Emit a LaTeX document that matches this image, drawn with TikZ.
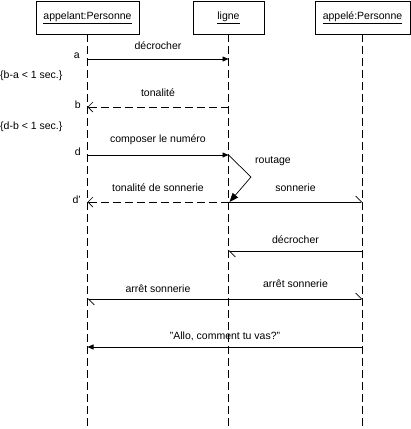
\documentclass[tikz,border=0pt]{standalone}
\usepackage{fontspec}
\setmainfont{Liberation Sans}
\usetikzlibrary{arrows.meta}

\tikzset{
  obj/.style={draw, line width=0.8pt, inner sep=0pt, minimum height=33pt, font=\fontsize{10.5}{12}\selectfont},
  life/.style={line width=0.7pt, dash pattern=on 8pt off 4pt},
  lbl/.style={inner sep=0pt, font=\fontsize{10.5}{12}\selectfont},
  sync/.style={line width=0.7pt, -{Triangle[length=6pt,width=5pt]}},
  bigsync/.style={line width=0.7pt, -{Triangle[length=9pt,width=7pt]}},
  async/.style={line width=0.7pt, -{Straight Barb[harpoon,length=6pt,width=12pt]}},
  reply/.style={line width=0.7pt, dash pattern=on 8pt off 4pt, -{Straight Barb[length=5pt,width=10pt]}}
}

\begin{document}
\begin{tikzpicture}[x=1pt,y=1pt]
\useasboundingbox (0,0) rectangle (411,-429);

\node[obj, minimum width=103pt] (appelant) at (87.5,-17.5) {\underline{appelant:Personne}};
\node[obj, minimum width=71pt] (ligne) at (228.5,-17.5) {\underline{ligne}};
\node[obj, minimum width=95pt] (appele) at (362.5,-17.5) {\underline{appelé:Personne}};

\coordinate (bottom) at (0,-429);
\draw[life] (appelant.south) -- (appelant.south |- bottom);
\draw[life] (ligne.south) -- (ligne.south |- bottom);
\draw[life] (appele.south) -- (appele.south |- bottom);

\coordinate (m1) at (0,-59);
\coordinate (m2) at (0,-107);
\coordinate (m3) at (0,-155);
\coordinate (m4) at (0,-202);
\coordinate (m5) at (0,-251);
\coordinate (m6) at (0,-299);
\coordinate (m7) at (0,-347);

\node[lbl, anchor=east] (ta) at (80,-56) {a};
\node[lbl, anchor=east] (tb) at (81,-105) {b};
\node[lbl, anchor=east] (td) at (81,-152) {d};
\node[lbl, anchor=east] (tdd) at (81,-200) {d'};
\node[lbl, anchor=west] (cba) at (0,-76) {\{b-a < 1 sec.\}};
\node[lbl, anchor=west] (cdb) at (0,-127) {\{d-b < 1 sec.\}};

\draw[sync] (appelant |- m1) -- node[lbl, above=9pt] (l1) {décrocher} (ligne |- m1);
\draw[reply] (ligne |- m2) -- node[lbl, above=10pt] (l2) {tonalité} (appelant |- m2);
\draw[sync] (appelant |- m3) -- node[lbl, above=10pt] (l3) {composer le numéro} (ligne |- m3);

\coordinate (rt) at (251,-177);
\draw[bigsync] (ligne |- m3) -- (rt) -- ([xshift=1pt]ligne |- m4);
\node[lbl] (l4) at (273,-161) {routage};

\draw[reply] (ligne |- m4) -- node[lbl, above=10pt] (l5) {tonalité de sonnerie} (appelant |- m4);
\draw[async] (ligne |- m4) -- node[lbl, above=10pt] (l6) {sonnerie} (appele |- m4);
\draw[async] (appele |- m5) -- node[lbl, above=7pt] (l7) {décrocher} (ligne |- m5);
\draw[async] (ligne |- m6) -- node[lbl, above=11pt] (l8) {arrêt sonnerie} (appele |- m6);
\draw[async] (ligne |- m6) -- node[lbl, above=6pt] (l9) {arrêt sonnerie} (appelant |- m6);
\draw[sync] (appele |- m7) -- node[lbl, above=6pt] (l10) {"Allo, comment tu vas?"} (appelant |- m7);

\end{tikzpicture}
\end{document}
